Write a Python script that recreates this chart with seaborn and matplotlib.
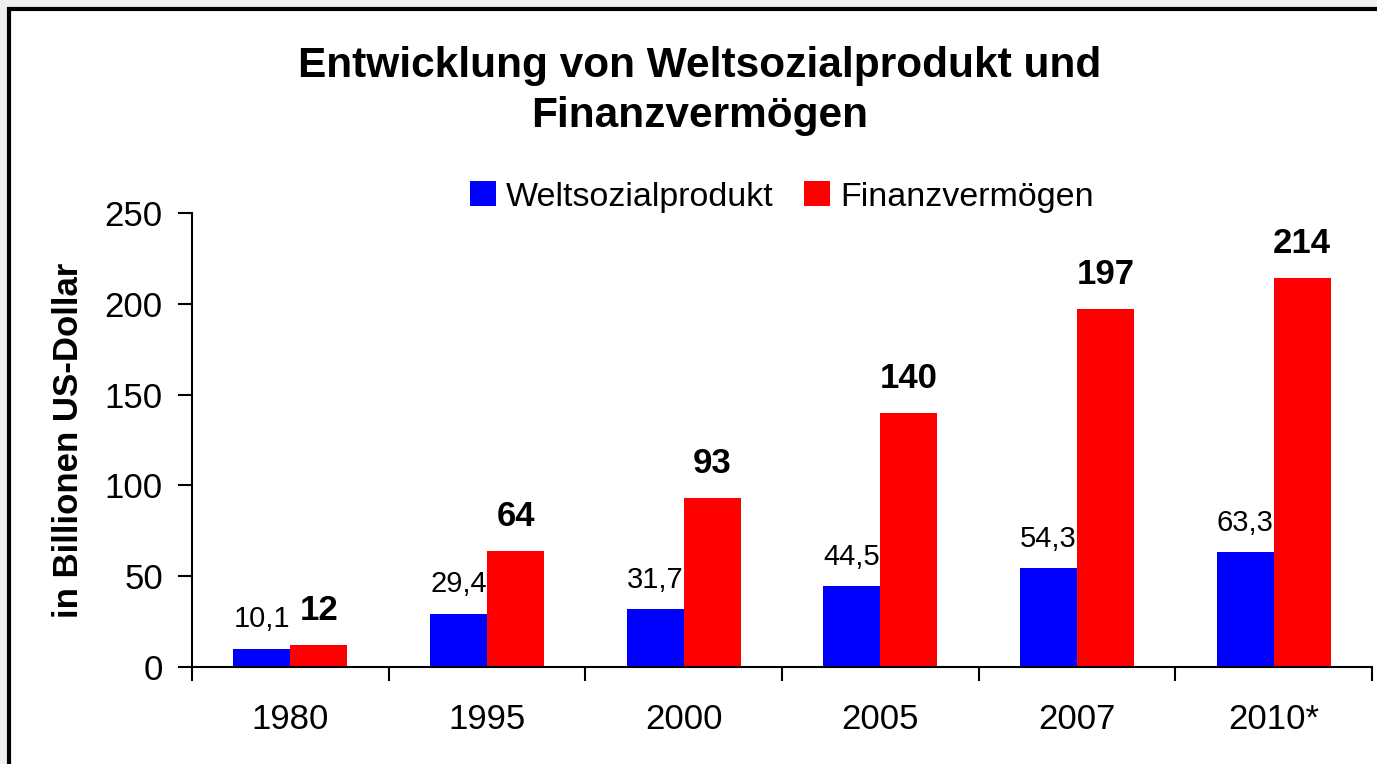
import matplotlib
matplotlib.use("Agg")
import matplotlib.pyplot as plt
import matplotlib.patches as mpatches
import seaborn as sns
import pandas as pd
import numpy as np

categories = ["1980", "1995", "2000", "2005", "2007", "2010*"]
welt = [10.1, 29.4, 31.7, 44.5, 54.3, 63.3]
finanz = [12, 64, 93, 140, 197, 214]
welt_labels = ["10,1", "29,4", "31,7", "44,5", "54,3", "63,3"]
finanz_labels = ["12", "64", "93", "140", "197", "214"]
series = ["Weltsozialprodukt", "Finanzvermögen"]
yticks = [0, 50, 100, 150, 200, 250]

df = pd.DataFrame({
    "Jahr": categories * 2,
    "Wert": welt + finanz,
    "Serie": [series[0]] * len(categories) + [series[1]] * len(categories),
})

sns.set_theme(style="white")
plt.rcParams["font.family"] = ["Liberation Sans", "DejaVu Sans"]
plt.rcParams["text.color"] = "black"
plt.rcParams["xtick.color"] = "black"
plt.rcParams["ytick.color"] = "black"
plt.rcParams["axes.labelcolor"] = "black"

fig = plt.figure(figsize=(13.77, 7.64), dpi=100)
fig.patch.set_facecolor("#f0f0f0")
frame = mpatches.Rectangle((9 / 1377, -0.05), 1.1, 1 - 9 / 764 + 0.05,
                           transform=fig.transFigure, facecolor="white",
                           edgecolor="black", linewidth=3, zorder=-10)
fig.patches.append(frame)

ax = fig.add_axes([192 / 1377, 1 - 667 / 764, (1372 - 192) / 1377, (667 - 213) / 764])
ax.set_zorder(5)
ax.patch.set_alpha(0)

sns.barplot(data=df, x="Jahr", y="Wert", hue="Serie", order=categories,
            hue_order=series, palette=["#0000ff", "#ff0000"], width=0.58,
            gap=0, linewidth=0, saturation=1, ax=ax, legend=True)

ax.set_ylim(0, 250)
ax.set_xlim(-0.5, len(categories) - 0.5)
ax.set_yticks(yticks)
ax.set_yticklabels([str(v) for v in yticks], fontsize=25)
ax.set_xticks(range(len(categories)))
ax.set_xticklabels(categories, fontsize=25)
ax.set_xticks(np.arange(-0.5, len(categories), 1.0), minor=True)
ax.tick_params(axis="x", which="major", length=0, pad=26)
ax.tick_params(axis="x", which="minor", length=10, width=1.5, direction="out",
               color="black", bottom=True)
ax.tick_params(axis="y", which="major", length=10, width=1.5, direction="out",
               color="black", left=True, pad=11)
for s in ["top", "right"]:
    ax.spines[s].set_visible(False)
for s in ["left", "bottom"]:
    ax.spines[s].set_color("black")
    ax.spines[s].set_linewidth(1.5)

ax.set_xlabel("")
ax.set_ylabel("in Billionen US-Dollar", fontsize=25, fontweight="bold", labelpad=14)

# value labels
bw = 0.58 / 2
for i in range(len(categories)):
    ax.annotate(welt_labels[i], (i - bw / 2, welt[i]), xytext=(0, 21),
                textcoords="offset points", ha="center", va="center", fontsize=21)
    ax.annotate(finanz_labels[i], (i + bw / 2, finanz[i]), xytext=(0, 25),
                textcoords="offset points", ha="center", va="center",
                fontsize=25, fontweight="bold")

handles, labels = ax.get_legend_handles_labels()
ax.legend(handles, labels, loc="center", bbox_to_anchor=(782 / 1377, 1 - 197 / 764),
          bbox_transform=fig.transFigure, ncol=2, frameon=False, fontsize=24.5,
          handlelength=0.75, handleheight=0.75, handletextpad=0.3, columnspacing=0.9)

fig.text(700 / 1377, 1 - 91 / 764, "Entwicklung von Weltsozialprodukt und\nFinanzvermögen",
         ha="center", va="center", fontsize=30.5, fontweight="bold", linespacing=1.32)

fig.savefig("out.png", dpi=100, facecolor=fig.get_facecolor())
